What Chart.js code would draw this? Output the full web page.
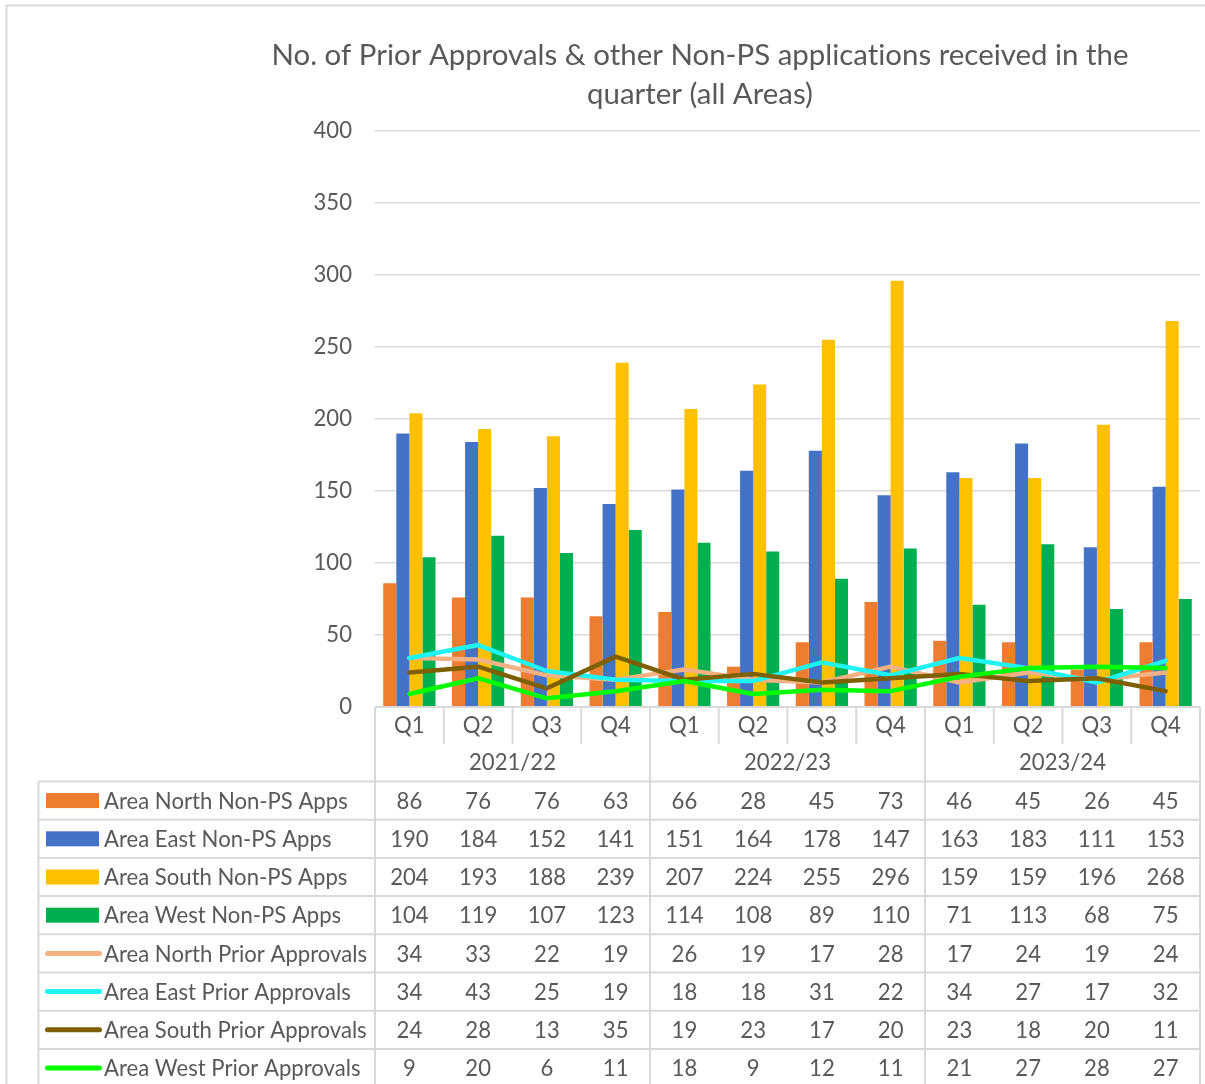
<!DOCTYPE html>
<html><head><meta charset="utf-8">
<script src="https://cdn.jsdelivr.net/npm/chart.js@4.4.1/dist/chart.umd.min.js"></script>
<style>html,body{margin:0;padding:0;background:#fff;overflow:hidden}#wrap{width:1205px;height:1084px;position:relative}</style>
</head><body><div id="wrap"><canvas id="c" width="1205" height="1084"></canvas></div>
<script>
const titleLines = ['No. of Prior Approvals & other Non-PS applications received in the', 'quarter (all Areas)'];
const years = ['2021/22', '2022/23', '2023/24'];
const quarters = ['Q1', 'Q2', 'Q3', 'Q4'];
const categories = ['Q1','Q2','Q3','Q4','Q1','Q2','Q3','Q4','Q1','Q2','Q3','Q4'];
const seriesNames = ['Area North Non-PS Apps','Area East Non-PS Apps','Area South Non-PS Apps','Area West Non-PS Apps',
  'Area North Prior Approvals','Area East Prior Approvals','Area South Prior Approvals','Area West Prior Approvals'];
const northNonPS = [86,76,76,63,66,28,45,73,46,45,26,45];
const eastNonPS  = [190,184,152,141,151,164,178,147,163,183,111,153];
const southNonPS = [204,193,188,239,207,224,255,296,159,159,196,268];
const westNonPS  = [104,119,107,123,114,108,89,110,71,113,68,75];
const northPA = [34,33,22,19,26,19,17,28,17,24,19,24];
const eastPA  = [34,43,25,19,18,18,31,22,34,27,17,32];
const southPA = [24,28,13,35,19,23,17,20,23,18,20,11];
const westPA  = [9,20,6,11,18,9,12,11,21,27,28,27];
const yMin = 0, yMax = 400, yStep = 50;

const colors = ['#ED7D31','#4472C4','#FFC000','#00B050','#F4B183','#1EF4F4','#7F6000','#00FF00'];
const allSeries = [northNonPS, eastNonPS, southNonPS, westNonPS, northPA, eastPA, southPA, westPA];

const FAMILY = 'Lato, "Noto Sans", sans-serif';
const TEXT = '#595959';
const GRID = '#D9D9D9';

function fitSize(text, target, family) {
  const cv = document.createElement('canvas').getContext('2d');
  cv.font = '100px ' + family;
  return 100 * target / cv.measureText(text).width;
}
const titleSize = fitSize(titleLines[0], 858, FAMILY);
const bodySize = fitSize('Area North Prior Approvals', 263, FAMILY);

const datasets = allSeries.map((d, i) => {
  if (i < 4) return {type:'bar', label: seriesNames[i], data: d, backgroundColor: colors[i], borderWidth: 0, order: 10,
    categoryPercentage: 0.76, barPercentage: 1.0};
  return {type:'line', label: seriesNames[i], data: d, borderColor: colors[i], backgroundColor: colors[i], borderWidth: 4.5,
    pointRadius: 0, tension: 0, borderJoinStyle: 'round', borderCapStyle: 'round', order: 8 - i};
});

const TABLE_TOP = 781.5, ROW_H = 38.2, TABLE_LEFT = 38.5, QROW_BOTTOM = 744, QLABEL_Y = 726, YLABEL_Y = 763;

const decor = {
  id: 'decor',
  beforeDraw(chart) {
    const ctx = chart.ctx;
    ctx.save();
    ctx.strokeStyle = GRID; ctx.lineWidth = 2;
    ctx.strokeRect(6.5, 5.5, 1400, 1400);
    ctx.restore();
  },
  afterDraw(chart) {
    const ctx = chart.ctx, xs = chart.scales.x, area = chart.chartArea;
    const half = (xs.getPixelForValue(1) - xs.getPixelForValue(0)) / 2;
    const left = area.left, right = area.right;
    const nRows = seriesNames.length;
    const tableBottom = TABLE_TOP + nRows * ROW_H;
    ctx.save();
    if ('textRendering' in ctx) ctx.textRendering = 'optimizeSpeed';
    // title
    ctx.fillStyle = TEXT;
    ctx.font = titleSize.toFixed(2) + 'px ' + FAMILY;
    ctx.textAlign = 'center'; ctx.textBaseline = 'alphabetic';
    ctx.fillText(titleLines[0], 700, 65);
    ctx.fillText(titleLines[1], 700, 104);
    // axis lines
    ctx.strokeStyle = GRID; ctx.lineWidth = 2;
    ctx.beginPath();
    ctx.moveTo(left, area.bottom); ctx.lineTo(right, area.bottom);
    for (let k = 0; k <= categories.length; k++) {
      const x = xs.getPixelForValue(k) - half;
      ctx.moveTo(x, area.bottom);
      ctx.lineTo(x, (k % 4 === 0) ? tableBottom : QROW_BOTTOM);
    }
    for (let r = 0; r <= nRows; r++) {
      const y = TABLE_TOP + r * ROW_H;
      ctx.moveTo(TABLE_LEFT, y); ctx.lineTo(right, y);
    }
    ctx.moveTo(TABLE_LEFT, TABLE_TOP); ctx.lineTo(TABLE_LEFT, tableBottom);
    ctx.stroke();
    // category labels
    ctx.font = bodySize.toFixed(2) + 'px ' + FAMILY;
    ctx.textAlign = 'center'; ctx.textBaseline = 'middle';
    categories.forEach((c, i) => ctx.fillText(c, xs.getPixelForValue(i), QLABEL_Y));
    years.forEach((y, j) => {
      const x0 = xs.getPixelForValue(j * 4) - half, x1 = xs.getPixelForValue(j * 4 + 3) + half;
      ctx.fillText(y, (x0 + x1) / 2, YLABEL_Y);
    });
    // table
    for (let r = 0; r < nRows; r++) {
      const cy = TABLE_TOP + (r + 0.5) * ROW_H;
      if (r < 4) {
        ctx.fillStyle = colors[r];
        ctx.fillRect(46, cy - 7.5, 53, 15);
      } else {
        ctx.strokeStyle = colors[r]; ctx.lineWidth = 5; ctx.lineCap = 'round';
        ctx.beginPath(); ctx.moveTo(47.5, cy); ctx.lineTo(99.5, cy); ctx.stroke();
      }
      ctx.fillStyle = TEXT;
      ctx.textAlign = 'left';
      ctx.fillText(seriesNames[r], 104, cy + 1);
      ctx.textAlign = 'center';
      allSeries[r].forEach((v, i) => ctx.fillText(String(v), xs.getPixelForValue(i), cy + 1));
    }
    ctx.restore();
  }
};

new Chart(document.getElementById('c'), {
  type: 'bar',
  data: { labels: categories, datasets },
  options: {
    responsive: false, animation: false, devicePixelRatio: 1,
    layout: { padding: { left: 275, top: 131, right: 5, bottom: 377 } },
    plugins: { legend: { display: false }, title: { display: false }, tooltip: { enabled: false } },
    scales: {
      x: { display: false, offset: true },
      y: {
        min: yMin, max: yMax,
        ticks: { stepSize: yStep, color: TEXT, font: { family: FAMILY, size: bodySize }, padding: 23 },
        grid: { color: GRID, lineWidth: 1.5, drawTicks: false },
        border: { display: false },
        afterFit(s) { s.width = 100; }
      }
    }
  },
  plugins: [decor]
});
</script></body></html>
